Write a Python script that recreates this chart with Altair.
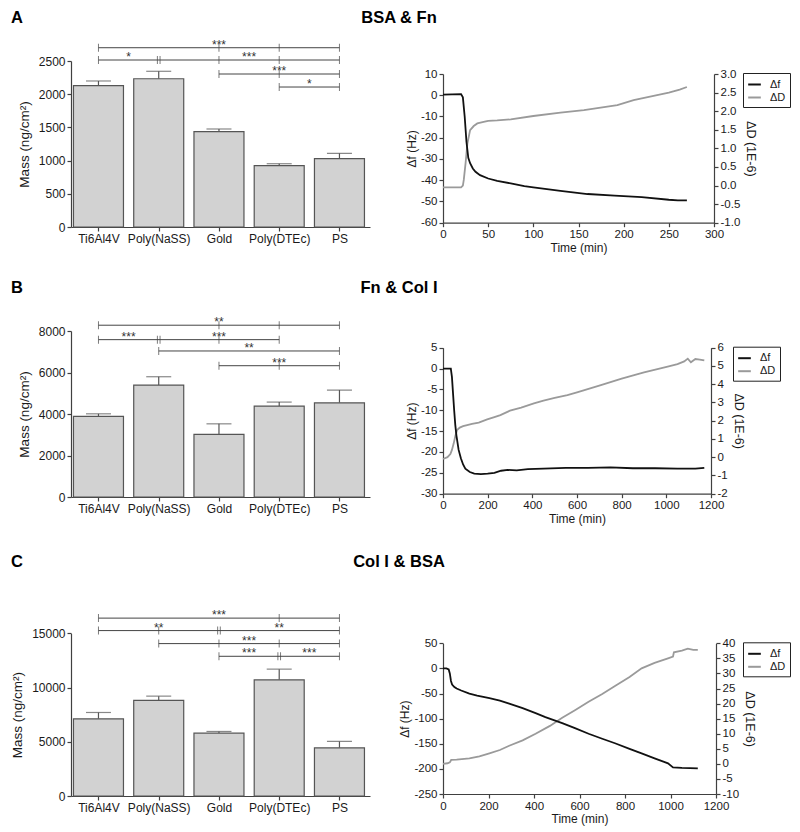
import json
import altair as alt
import pandas as pd

FONT = "Liberation Sans"
INK = "#1a1a1a"
AXC = "#404040"

groups = ["Ti6Al4V", "Poly(NaSS)", "Gold", "Poly(DTEc)", "PS"]

# ---------------- bar data: mean and top of error bar ----------------
mass_A = [2128, 2233, 1435, 923, 1029]
top_A = [2199, 2345, 1476, 953, 1110]
mass_B = [3883, 5395, 3014, 4381, 4540]
top_B = [4009, 5796, 3526, 4574, 5154]
mass_C = [7113, 8810, 5793, 10710, 4437]
top_C = [7700, 9207, 5950, 11697, 5027]

# significance brackets: (level, from index, to index)
lines_A = [(2700, 0, 4), (2515, 0, 4), (2304, 2, 4), (2108, 3, 4)]
ticks_A = [(2700, 0, 1), (2700, 2, 1), (2700, 3, 1), (2700, 4, 1),
           (2515, 0, 1), (2515, 1, 2), (2515, 2, 1), (2515, 3, 1), (2515, 4, 1),
           (2304, 2, 1), (2304, 3, 1), (2304, 4, 1),
           (2108, 3, 1), (2108, 4, 1)]
stars_A = [(2.0, 2700, "***"), (0.5, 2515, "*"), (2.5, 2515, "***"),
           (3.0, 2304, "***"), (3.5, 2108, "*")]

lines_B = [(8279, 0, 4), (7583, 0, 3), (7037, 1, 4), (6327, 2, 4)]
ticks_B = [(8279, 0, 1), (8279, 2, 1), (8279, 3, 1), (8279, 4, 1),
           (7583, 0, 1), (7583, 1, 2), (7583, 2, 1), (7583, 3, 1),
           (7037, 1, 1), (7037, 4, 1),
           (6327, 2, 1), (6327, 3, 1), (6327, 4, 1)]
stars_B = [(2.0, 8279, "**"), (0.5, 7583, "***"), (2.0, 7583, "***"),
           (2.5, 7037, "**"), (3.0, 6327, "***")]

lines_C = [(16400, 0, 4), (15250, 0, 4), (14050, 1, 4), (12880, 2, 4)]
ticks_C = [(16400, 0, 1), (16400, 3, 1), (16400, 4, 1),
           (15250, 0, 1), (15250, 1, 1), (15250, 2, 2), (15250, 4, 1),
           (14050, 1, 1), (14050, 2, 1), (14050, 3, 1), (14050, 4, 1),
           (12880, 2, 1), (12880, 3, 2), (12880, 4, 1)]
stars_C = [(2.0, 16400, "***"), (1.0, 15250, "**"), (3.0, 15250, "**"),
           (2.5, 14050, "***"), (2.5, 12880, "***"), (3.5, 12880, "***")]

# ---------------- QCM-D traces ----------------
fA_t = [0, 10, 20, 22, 24, 26, 28, 30, 33, 36, 41, 50, 60, 75, 90, 100, 115, 130, 160, 190, 220, 250, 260, 270]
fA_v = [0.3, 0.4, 0.5, -1, -10, -22, -29.5, -32, -34.5, -36, -37.6, -39.2, -40.3, -41.5, -42.8, -43.4, -44.2, -45, -46.5, -47.3, -48, -49.2, -49.5, -49.5]
dA_t = [0, 10, 20, 22, 23, 25, 27, 30, 34, 38, 45, 50, 60, 75, 100, 130, 156, 193, 211, 237, 250, 262, 270]
dA_v = [-0.05, -0.05, -0.05, 0.0, 0.15, 0.6, 1.13, 1.49, 1.6, 1.67, 1.71, 1.74, 1.75, 1.78, 1.87, 1.96, 2.03, 2.16, 2.3, 2.43, 2.5, 2.58, 2.65]

fB_t = [0, 20, 35, 40, 45, 50, 55, 60, 70, 80, 90, 100, 120, 140, 170, 200, 230, 260, 290, 330, 380, 450, 550, 650, 750, 850, 950, 1050, 1130, 1170]
fB_v = [0, 0, 0, -2, -6, -10, -13.5, -16, -19.5, -21.5, -23, -24, -24.8, -25.2, -25.3, -25.2, -25, -24.5, -24.3, -24.4, -24.1, -24, -23.8, -23.8, -23.7, -23.9, -23.9, -24, -24, -23.8]
dB_t = [0, 20, 33, 40, 48, 55, 63, 75, 90, 108, 130, 160, 198, 230, 257, 300, 350, 407, 450, 500, 557, 600, 707, 800, 856, 900, 1006, 1050, 1080, 1096, 1110, 1130, 1150, 1170]
dB_v = [-0.1, 0.0, 0.17, 0.4, 0.76, 1.15, 1.49, 1.62, 1.7, 1.76, 1.82, 1.9, 2.07, 2.2, 2.31, 2.55, 2.72, 2.95, 3.1, 3.25, 3.4, 3.55, 3.95, 4.3, 4.5, 4.65, 4.96, 5.1, 5.25, 5.4, 5.2, 5.38, 5.35, 5.3]

fC_t = [0, 15, 25, 30, 35, 40, 50, 60, 80, 116, 150, 204, 250, 291, 350, 407, 450, 524, 580, 640, 700, 756, 820, 873, 930, 989, 1011, 1050, 1120]
fC_v = [0, 0, -2, -10, -25, -32, -37, -40, -44, -50, -54, -59, -64, -70, -79, -89, -97, -109, -119, -130, -140, -149, -160, -169, -179, -189, -197, -198, -199]
dC_t = [0, 20, 30, 36, 60, 116, 160, 204, 250, 291, 350, 407, 470, 524, 580, 640, 700, 756, 820, 873, 930, 989, 1011, 1015, 1050, 1076, 1100, 1120]
dC_v = [0, 0.2, 0.5, 1.3, 1.4, 1.8, 2.5, 3.5, 4.6, 6, 7.8, 10, 12.6, 15.3, 17.8, 20.6, 23.2, 25.8, 28.8, 31.7, 33.5, 35, 35.6, 37, 37.6, 38.2, 37.8, 37.8]

series_names = ["\u0394f", "\u0394D"]
series_colors = ["#111111", "#9a9a9a"]

X_DOMAIN = [-0.456, 4.507]
BAR_W = 299
LABEL_EXPR = json.dumps(groups) + "[datum.value]"
MINUS_FIX = "replace(datum.label, '\u2212', '-')"


def bar_panel(mass, top, ymax, ystep, view_h, range_top, blines, bticks, bstars,
              letter, title, head_y, anchor_y=None):
    xs = alt.Scale(domain=X_DOMAIN, nice=False, zero=False, padding=0)
    ys = alt.Scale(domain=[0, ymax], range=[view_h, range_top], nice=False, zero=False,
                   padding=0)
    df = pd.DataFrame({"i": list(range(len(groups))), "mass": mass, "top": top})
    x_axis = alt.Axis(values=list(range(len(groups))), labelExpr=LABEL_EXPR, title=None,
                      tickSize=4, labelPadding=2, labelFontSize=12, labelFlush=False,
                      labelOverlap=False, labelAngle=0)
    y_axis = alt.Axis(values=list(range(0, ymax + 1, ystep)), format="d",
                      title="Mass (ng/cm\u00b2)", titleFontSize=13.5, titlePadding=7,
                      labelFontSize=12, tickSize=4, labelPadding=2, labelFlush=False,
                      labelOverlap=False)

    def X(field):
        return alt.X(field, scale=xs, axis=x_axis)

    def Y(field):
        return alt.Y(field, scale=ys, axis=y_axis)

    bars = alt.Chart(df).mark_bar(size=50, orient="vertical", fill="#d2d2d2",
                                  stroke="#555555", strokeWidth=1.2).encode(
        x=X("i:Q"), y=Y("mass:Q"), y2=alt.datum(0))
    err = alt.Chart(df).mark_rule(color="#555555", strokeWidth=1.2).encode(
        x=X("i:Q"), y=Y("mass:Q"), y2="top:Q")
    caps = alt.Chart(df).mark_tick(orient="horizontal", size=25, thickness=1.2,
                                   color="#555555").encode(x=X("i:Q"), y=Y("top:Q"))

    ldf = pd.DataFrame(blines, columns=["y", "x1", "x2"])
    br = alt.Chart(ldf).mark_rule(color="#444444", strokeWidth=1).encode(
        x=X("x1:Q"), x2="x2:Q", y=Y("y:Q"))
    rows = []
    for y, i, n in bticks:
        if n == 2:
            rows += [(y, i - 0.022), (y, i + 0.022)]
        else:
            rows.append((y, i))
    tdf = pd.DataFrame(rows, columns=["y", "x"])
    tk = alt.Chart(tdf).mark_tick(orient="vertical", size=8, thickness=1,
                                  color="#444444").encode(x=X("x:Q"), y=Y("y:Q"))
    sdf = pd.DataFrame(bstars, columns=["x", "y", "label"])
    st = alt.Chart(sdf).mark_text(fontSize=12, baseline="alphabetic", color="#333333",
                                  dy=1).encode(x=X("x:Q"), y=Y("y:Q"), text="label:N")
    hdf = pd.DataFrame({"letter": [letter], "title": [title]})
    lt = alt.Chart(hdf).mark_text(align="left", baseline="alphabetic", fontSize=16.5,
                                  fontWeight="bold", color="black").encode(
        x=alt.value(-60), y=alt.value(head_y), text="letter:N")
    tt = alt.Chart(hdf).mark_text(align="center", baseline="alphabetic", fontSize=16.5,
                                  fontWeight="bold", color="black").encode(
        x=alt.value(328), y=alt.value(head_y), text="title:N")
    layers = [br, tk, st, err, caps, bars, lt, tt]
    if anchor_y is not None:
        # invisible page-top anchor so the header text does not touch the edge
        layers.append(alt.Chart(hdf).mark_rule(opacity=0, strokeWidth=1).encode(
            x=alt.value(0), x2=alt.value(1), y=alt.value(anchor_y), y2=alt.value(anchor_y)))
    return alt.layer(*layers).properties(width=BAR_W, height=view_h)


def steps(lo, hi, step):
    n = int(round((hi - lo) / step))
    return [round(lo + k * step, 4) for k in range(n + 1)]


def line_panel(tf, fv, td, dv, xmax, xstep, fdom, fstep, ddom, dstep, dfmt,
               width, view_h, range_top, lx, ly):
    xs = alt.Scale(domain=[0, xmax], nice=False, zero=False)
    x_axis = alt.Axis(values=list(range(0, xmax + 1, xstep)), format="d",
                      title="Time (min)", titleFontSize=12, titlePadding=2,
                      labelFontSize=11.5, tickSize=4, labelPadding=2, labelFlush=False,
                      labelOverlap=False)
    color = alt.Color(
        "s:N",
        scale=alt.Scale(domain=series_names, range=series_colors),
        legend=alt.Legend(orient="none", legendX=lx, legendY=ly, title=None,
                          strokeColor="#222222", padding=4, symbolType="stroke",
                          symbolStrokeWidth=2, symbolSize=160, labelFontSize=11,
                          rowPadding=0, labelOffset=8, labelFont=FONT))
    fdf = pd.DataFrame({"t": tf, "v": fv, "s": [series_names[0]] * len(tf)})
    ddf = pd.DataFrame({"t": td, "v": dv, "s": [series_names[1]] * len(td)})
    f_line = alt.Chart(fdf).mark_line(strokeWidth=1.8).encode(
        x=alt.X("t:Q", scale=xs, axis=x_axis),
        y=alt.Y("v:Q",
                scale=alt.Scale(domain=fdom, range=[view_h, range_top], nice=False, zero=False),
                axis=alt.Axis(orient="left", values=steps(fdom[0], fdom[1], fstep),
                              format="d", title="\u0394f (Hz)", titleFontSize=12,
                              titlePadding=2, labelFontSize=11.5, tickSize=4,
                              labelPadding=2, labelExpr=MINUS_FIX, labelFlush=False,
                              labelOverlap=False)),
        color=color)
    d_line = alt.Chart(ddf).mark_line(strokeWidth=1.8).encode(
        x=alt.X("t:Q", scale=xs, axis=x_axis),
        y=alt.Y("v:Q",
                scale=alt.Scale(domain=ddom, range=[view_h, range_top], nice=False, zero=False),
                axis=alt.Axis(orient="right", values=steps(ddom[0], ddom[1], dstep),
                              format=dfmt, title="\u0394D (1E-6)", titleFontSize=12.5,
                              titlePadding=4, labelFontSize=11.5, tickSize=4,
                              labelPadding=2, labelExpr=MINUS_FIX, labelFlush=False,
                              labelOverlap=False)),
        color=color)
    return alt.layer(d_line, f_line).resolve_scale(y="independent").properties(
        width=width, height=view_h)


bar_A = bar_panel(mass_A, top_A, 2500, 500, 166, 0, lines_A, ticks_A, stars_A,
                  "A", "BSA & Fn", -38, anchor_y=-52.5)
bar_B = bar_panel(mass_B, top_B, 8000, 2000, 166, 0, lines_B, ticks_B, stars_B,
                  "B", "Fn & Col I", -38)
bar_C = bar_panel(mass_C, top_C, 15000, 5000, 195, 32.3, lines_C, ticks_C, stars_C,
                  "C", "Col I & BSA", -34)

line_A = line_panel(fA_t, fA_v, dA_t, dA_v, 300, 50, [-60, 10], 10, [-1, 3], 0.5, ".1f",
                    271, 161.7, 13, 300, 12)
line_B = line_panel(fB_t, fB_v, dB_t, dB_v, 1200, 200, [-30, 5], 5, [-2, 6], 1, "d",
                    268, 162.7, 16.7, 290, 15.7)
line_C = line_panel(fC_t, fC_v, dC_t, dC_v, 1200, 200, [-250, 50], 50, [-10, 40], 5, "d",
                    273, 193, 42.3, 300, 41.3)

chart = alt.concat(
    bar_A, line_A, bar_B, line_B, bar_C, line_C,
    columns=2, spacing={"row": 104, "column": 73}, bounds="flush", align="each"
).resolve_scale(
    color="independent"
).resolve_legend(
    color="independent"
).properties(
    padding={"left": 2, "top": 0, "right": 0, "bottom": 2}
).configure_view(
    stroke=None
).configure_axis(
    labelFont=FONT, titleFont=FONT, labelColor=INK, titleColor=INK,
    domainColor=AXC, tickColor=AXC, grid=False, titleFontWeight="normal",
    domainWidth=1.2, tickWidth=1.2
).configure_text(
    font=FONT
).configure_legend(
    labelFont=FONT, labelColor=INK
)

chart.save("out.html", embed_options={"renderer": "svg", "actions": False})
